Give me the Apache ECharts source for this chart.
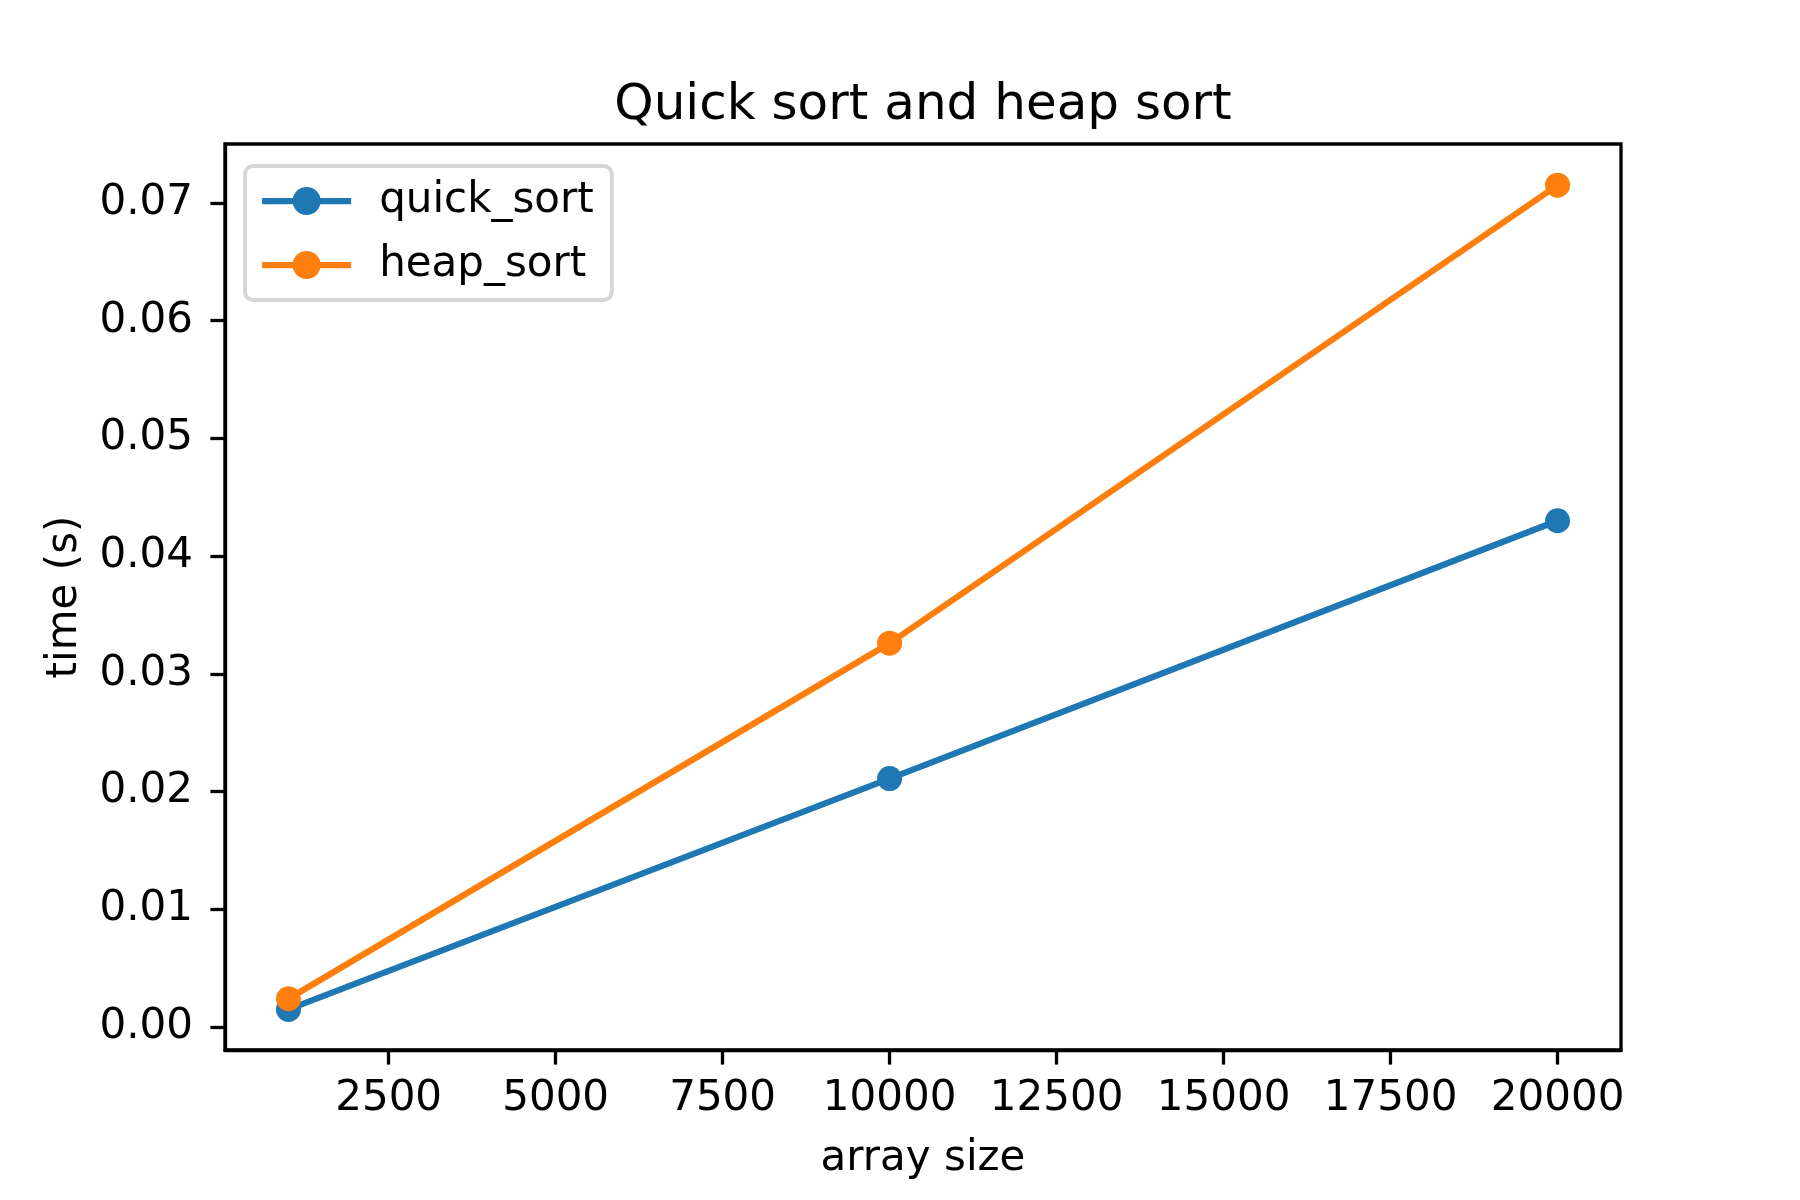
<!DOCTYPE html>
<html lang="en">
<head>
  <meta charset="UTF-8">
  <title>Quick sort and heap sort</title>
  <script src="https://cdn.jsdelivr.net/npm/echarts@6/dist/echarts.min.js"></script>
  <style>
    body { margin: 0; background: #fff; }
  </style>
</head>
<body>
<div id="chart" style="width: 1800px;height: 1200px"></div>
<script>
  var arraySizes = [1000, 10000, 20000];
  var quickSort = [0.0015, 0.0211, 0.0430];
  var heapSort = [0.0024, 0.0326, 0.0715];
  var xTicks = [2500, 5000, 7500, 10000, 12500, 15000, 17500, 20000];
  var yTicks = [0, 0.01, 0.02, 0.03, 0.04, 0.05, 0.06, 0.07];

  var font = 'DejaVu Sans';

  function pairs(xs, ys) {
    var out = [];
    for (var i = 0; i < xs.length; i++) {
      out.push([xs[i], ys[i]]);
    }
    return out;
  }

  var chart = echarts.init(document.getElementById('chart'));

  var option = {
    animation: false,
    backgroundColor: '#fff',
    textStyle: { fontFamily: font },
    title: {
      text: 'Quick sort and heap sort',
      left: 918,
      textAlign: 'center',
      top: 76,
      textStyle: { fontFamily: font, fontSize: 50, fontWeight: 'normal', color: '#000' }
    },
    legend: {
      left: 245,
      top: 166,
      orient: 'vertical',
      itemWidth: 89,
      itemHeight: 35,
      itemGap: 22,
      padding: [14, 18, 14, 14],
      borderColor: '#d6d6d6',
      borderWidth: 4,
      borderRadius: 8,
      backgroundColor: 'rgba(255,255,255,0.8)',
      lineStyle: { width: 6.25 },
      textStyle: { fontFamily: font, fontSize: 42, color: '#000', lineHeight: 42, padding: [0, 0, 0, 23] },
      data: ['quick_sort', 'heap_sort']
    },
    grid: {
      left: 225,
      right: 179,
      top: 144,
      bottom: 150,
      show: true,
      borderColor: '#000',
      borderWidth: 3.3,
      containLabel: false
    },
    xAxis: {
      type: 'value',
      min: 50,
      max: 20950,
      name: 'array size',
      nameLocation: 'middle',
      nameGap: 88,
      nameTextStyle: { fontFamily: font, fontSize: 42, color: '#000' },
      axisLine: { show: true, onZero: false, lineStyle: { color: '#000', width: 3.3 } },
      axisTick: { show: true, inside: false, length: 14.6, customValues: xTicks, lineStyle: { color: '#000', width: 3.3 } },
      axisLabel: {
        customValues: xTicks,
        margin: 28,
        fontFamily: font,
        fontSize: 42,
        color: '#000',
        formatter: function (v) { return String(v); }
      },
      splitLine: { show: false }
    },
    yAxis: {
      type: 'value',
      min: -0.00195,
      max: 0.0750,
      name: 'time (s)',
      nameLocation: 'middle',
      nameGap: 139,
      nameTextStyle: { fontFamily: font, fontSize: 42, color: '#000' },
      axisLine: { show: true, onZero: false, lineStyle: { color: '#000', width: 3.3 } },
      axisTick: { show: true, inside: false, length: 14.6, customValues: yTicks, lineStyle: { color: '#000', width: 3.3 } },
      axisLabel: {
        customValues: yTicks,
        margin: 32,
        fontFamily: font,
        fontSize: 42,
        color: '#000',
        formatter: function (v) { return v.toFixed(2); }
      },
      splitLine: { show: false }
    },
    series: [
      {
        name: 'quick_sort',
        type: 'line',
        data: pairs(arraySizes, quickSort),
        symbol: 'circle',
        symbolSize: 25,
        showSymbol: true,
        color: '#1f77b4',
        lineStyle: { width: 6.25, color: '#1f77b4' },
        itemStyle: { color: '#1f77b4' }
      },
      {
        name: 'heap_sort',
        type: 'line',
        data: pairs(arraySizes, heapSort),
        symbol: 'circle',
        symbolSize: 25,
        showSymbol: true,
        color: '#ff7f0e',
        lineStyle: { width: 6.25, color: '#ff7f0e' },
        itemStyle: { color: '#ff7f0e' }
      }
    ]
  };

  chart.setOption(option);
</script>
</body>
</html>
